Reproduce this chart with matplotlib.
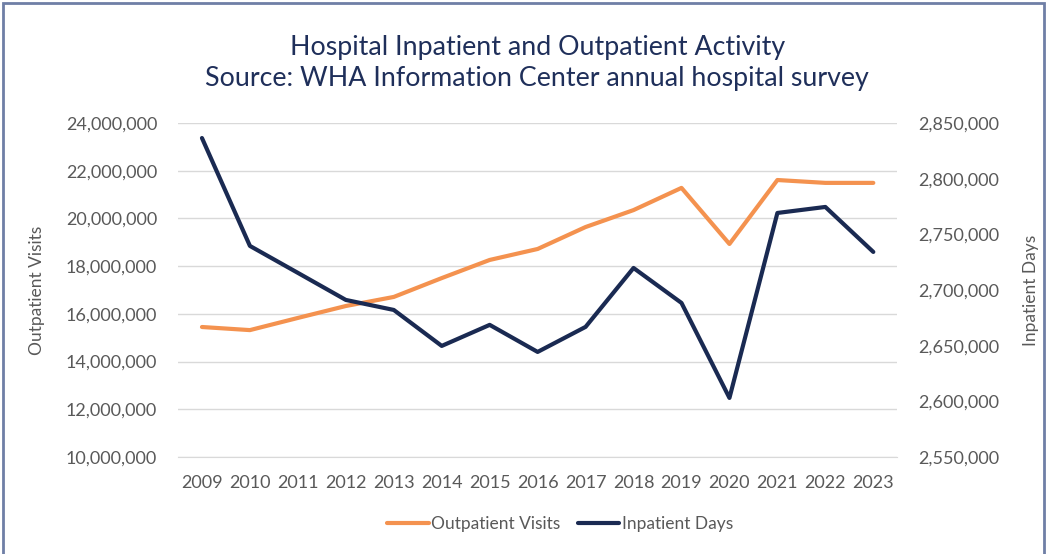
import matplotlib
matplotlib.use("Agg")
import matplotlib.pyplot as plt
from matplotlib.patches import Rectangle
from matplotlib.ticker import FuncFormatter, MultipleLocator

plt.rcParams['font.family'] = ['Lato', 'DejaVu Sans']

years = [str(y) for y in range(2009, 2024)]
outpatient_visits = [15450000, 15320000, 15830000, 16330000, 16710000, 17500000, 18260000,
                     18720000, 19640000, 20350000, 21280000, 18930000, 21610000, 21490000, 21490000]
inpatient_days = [2836500, 2739600, 2715400, 2691100, 2682100, 2649800, 2668700,
                  2644400, 2666900, 2719800, 2688400, 2603100, 2769200, 2774600, 2734200]

orange = '#F4924F'
navy = '#1A2A52'
text_col = '#595959'

fig = plt.figure(figsize=(10.47, 5.54), dpi=100)
ax = fig.add_axes([0.170, 0.175, 0.687, 0.603])
ax2 = ax.twinx()

x = list(range(len(years)))
l1, = ax.plot(x, outpatient_visits, color=orange, lw=3, label='Outpatient Visits', solid_capstyle='round')
l2, = ax2.plot(x, inpatient_days, color=navy, lw=3, label='Inpatient Days', solid_capstyle='round')

ax.set_ylim(10000000, 24000000)
ax.yaxis.set_major_locator(MultipleLocator(2000000))
ax2.set_ylim(2550000, 2850000)
ax2.yaxis.set_major_locator(MultipleLocator(50000))
fmt = FuncFormatter(lambda v, p: f'{v:,.0f}')
ax.yaxis.set_major_formatter(fmt)
ax2.yaxis.set_major_formatter(fmt)

ax.set_xlim(-0.5, len(years) - 0.5)
ax.set_xticks(x)
ax.set_xticklabels(years)

ax.grid(axis='y', color='#D9D9D9', lw=1)
ax.set_axisbelow(True)
for a in (ax, ax2):
    for s in a.spines.values():
        s.set_visible(False)
    a.tick_params(length=0, labelsize=13, colors=text_col, pad=15)
ax.tick_params(axis='x', pad=13)
ax.spines['bottom'].set_visible(True)
ax.spines['bottom'].set_color('#D9D9D9')

ax.set_ylabel('Outpatient Visits', fontsize=12.5, color=text_col)
ax2.set_ylabel('Inpatient Days', fontsize=12.5, color=text_col)
ax.yaxis.set_label_coords(-0.185, 0.5)
ax2.yaxis.set_label_coords(1.175, 0.5)

fig.text(0.513, 0.887, 'Hospital Inpatient and Outpatient Activity\nSource: WHA Information Center annual hospital survey',
         ha='center', va='center', fontsize=19.3, color='#1F2F5A', linespacing=1.3)

fig.legend(handles=[l1, l2], loc='center', bbox_to_anchor=(0.535, 0.054), ncol=2, frameon=False,
           fontsize=12.5, labelcolor=text_col, handlelength=2.4, columnspacing=1.0, handletextpad=0.15)

fig.patches.append(Rectangle((0.003, -0.01), 0.994, 1.005, transform=fig.transFigure,
                             fill=False, edgecolor='#6F7FA6', lw=2))

fig.savefig('out.png', dpi=100)
